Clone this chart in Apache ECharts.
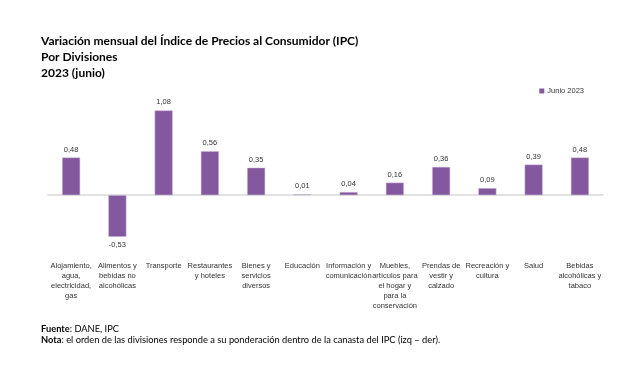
<!DOCTYPE html>
<html><head><meta charset="utf-8">
<script src="https://cdn.jsdelivr.net/npm/echarts@6/dist/echarts.min.js"></script>
<style>html,body{margin:0;padding:0;background:#fff}#c{width:640px;height:368px}</style>
</head><body><div id="c"></div>
<script>
const categories = [
  "Alojamiento,\nagua,\nelectricidad,\ngas",
  "Alimentos y\nbebidas no\nalcohólicas",
  "Transporte",
  "Restaurantes\ny hoteles",
  "Bienes y\nservicios\ndiversos",
  "Educación",
  "Información y\ncomunicación",
  "Muebles,\nartículos para\nel hogar y\npara la\nconservación",
  "Prendas de\nvestir y\ncalzado",
  "Recreación y\ncultura",
  "Salud",
  "Bebidas\nalcohólicas y\ntabaco"
];
const seriesName = "Junio 2023";
const values = [0.48, -0.53, 1.08, 0.56, 0.35, 0.01, 0.04, 0.16, 0.36, 0.09, 0.39, 0.48];

const chart = echarts.init(document.getElementById('c'), null, {renderer: 'canvas'});
const fmt = v => v.toFixed(2).replace('.', ',');
chart.setOption({
  animation: false,
  backgroundColor: '#fff',
  title: [{
    text: 'Variación mensual del Índice de Precios al Consumidor (IPC)\nPor Divisiones\n2023 (junio)',
    left: 36, top: 28,
    textStyle: {fontFamily: 'Lato', fontWeight: 'bold', fontSize: 12, lineHeight: 16, color: '#000'}
  }, {
    text: '{b|Fuente}{n|: DANE, IPC}\n{b|Nota}{n|: el orden de las divisiones responde a su ponderación dentro de la canasta del IPC (izq – der).}',
    left: 36, top: 318,
    textStyle: {fontFamily: 'Lato', fontWeight: 'normal', fontSize: 9.3, lineHeight: 11.5, color: '#000',
      rich: {
        b: {fontFamily: 'Lato', fontWeight: 'bold', fontSize: 9.3, lineHeight: 11.5, color: '#000'},
        n: {fontFamily: 'Lato', fontWeight: 'normal', fontSize: 9.3, lineHeight: 11.5, color: '#000'}
      }}
  }],
  legend: {
    data: [seriesName], right: 51, top: 82, itemWidth: 5, itemHeight: 5, itemGap: 3,
    icon: 'rect', itemStyle: {borderWidth: 0},
    textStyle: {fontFamily: 'Liberation Sans', fontSize: 7.5, color: '#333', padding: [0,0,0,-2]}
  },
  grid: {left: 48, right: 37, top: 101, bottom: 110},
  xAxis: [{
    type: 'category', data: categories,
    axisLine: {show: false, onZero: false}, axisTick: {show: false},
    axisLabel: {interval: 0, margin: 3, fontFamily: 'Liberation Sans', fontSize: 7.5, lineHeight: 10, color: '#333', align: 'center', verticalAlign: 'top'}
  }, {
    type: 'category', data: categories, position: 'bottom',
    axisLine: {show: true, onZero: true, lineStyle: {color: '#d9d9d9', width: 1.5}},
    axisTick: {show: false}, axisLabel: {show: false}
  }],
  yAxis: {type: 'value', min: -0.8, max: 1.2, show: false, splitLine: {show: false}},
  series: [{
    name: seriesName, type: 'bar', data: values, barWidth: 18,
    itemStyle: {color: '#84589e', borderColor: '#c9b6d6', borderWidth: 0.5},
    label: {show: true, position: 'outside', formatter: p => fmt(p.value),
      fontFamily: 'Liberation Sans', fontSize: 7.5, color: '#333', distance: 4}
  }]
});
</script></body></html>
